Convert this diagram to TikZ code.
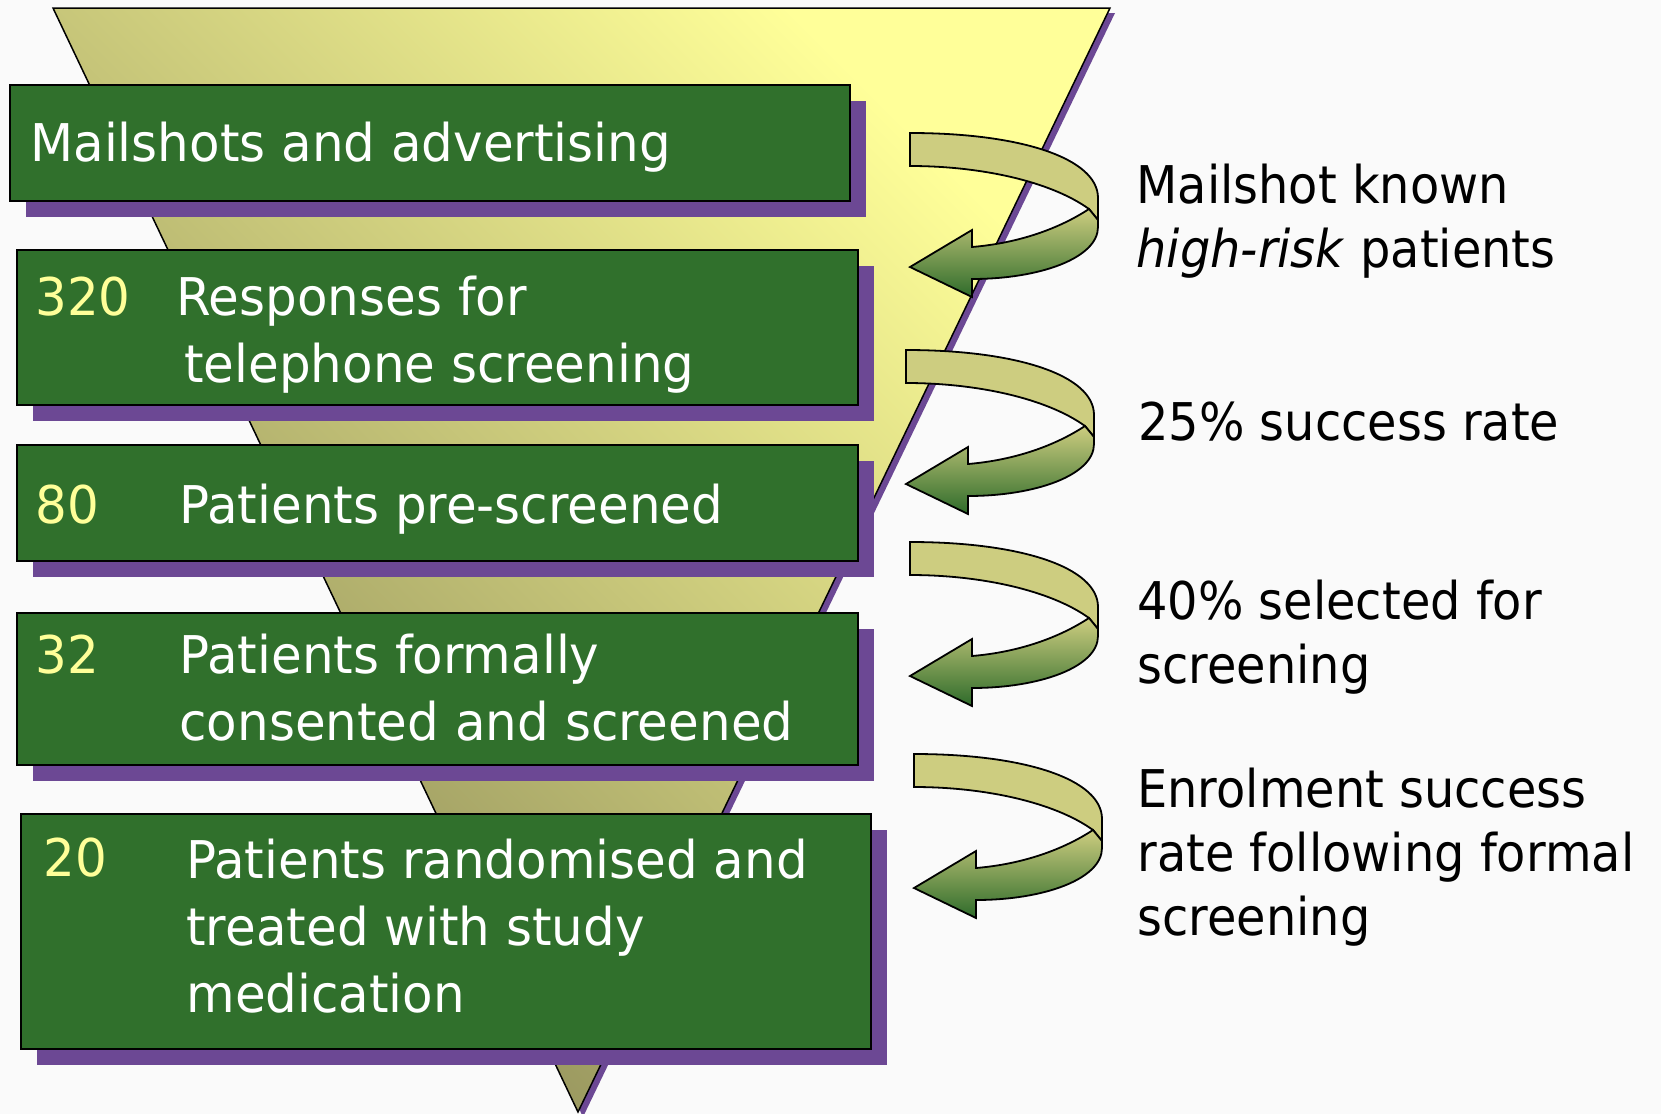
\documentclass[tikz,border=0pt]{standalone}
\usepackage{fontspec}
\setmainfont[FakeStretch=0.92]{DejaVu Sans}
\newfontfamily\boxfont[FakeStretch=0.96]{DejaVu Sans}
\usetikzlibrary{shadows}

\definecolor{paper}{RGB}{250,250,250}
\definecolor{boxgreen}{RGB}{48,112,44}
\definecolor{shadepurple}{RGB}{108,72,148}
\definecolor{numyellow}{RGB}{255,255,153}
\definecolor{funneldark}{RGB}{140,138,88}
\definecolor{funnellight}{RGB}{255,255,153}
\definecolor{bandolive}{RGB}{205,205,128}
\definecolor{bandgreen}{RGB}{46,107,42}

\tikzset{
  box/.style={draw=black, line width=1pt, fill=boxgreen, rectangle,
    drop shadow={shadow xshift=8pt, shadow yshift=-8pt, fill=shadepurple, opacity=1}},
  boxtext/.style={text=white, anchor=base west, align=left,
    font=\boxfont\fontsize{26pt}{33.5pt}\selectfont},
  num/.style={boxtext, text=numyellow},
  note/.style={text=black, anchor=base west, align=left,
    font=\fontsize{26pt}{32pt}\selectfont},
  band/.style={draw=black, line width=0.9pt, fill=bandolive},
  bandback/.style={draw=black, line width=0.9pt, top color=bandolive, bottom color=bandgreen},
  turn/.pic={
    \draw[band] (0,0) .. controls (110,0) and (188,25) .. (188,65) -- (188,87)
      -- (179,76) .. controls (140,48) and (70,33) .. (0,33) -- cycle;
    \draw[bandback] (179,76) -- (188,87) -- (188,94) .. controls (188,125) and (130,146) .. (62,146)
      -- (62,164) -- (0,134) -- (62,97) -- (62,114) .. controls (110,110) and (150,95) .. (179,76) -- cycle;
  }
}

\begin{document}
\begin{tikzpicture}[x=0.5pt, y=-0.5pt, every node/.style={inner sep=0pt}]

  \useasboundingbox (0,0) rectangle (1661,1114);
  \fill[paper] (0,0) rectangle (1661,1114);

  % funnel
  \fill[shadepurple, shift={(5,5)}] (53,8) -- (1110,8) -- (578,1112) -- cycle;
  \draw[line width=0.75pt, left color=funnellight, right color=funneldark, shading angle=-45]
    (53,8) -- (1110,8) -- (578,1112) -- cycle;

  % stages
  \node[box, minimum width=420pt, minimum height=58pt] (mail) at (430,143) {};
  \node[box, minimum width=420.5pt, minimum height=77.5pt] (resp) at (437.5,327.5) {};
  \node[box, minimum width=420.5pt, minimum height=58pt] (pre) at (437.5,503) {};
  \node[box, minimum width=420.5pt, minimum height=76pt] (cons) at (437.5,689) {};
  \node[box, minimum width=425pt, minimum height=117.5pt] (rand) at (446,931.5) {};

  % base of a multi-line node is its last line
  \node[boxtext] (mailtxt) at (30,161) {Mailshots and advertising};
  \node[num] (n320) at (35,315) {320};
  \node[boxtext] (resptxt) at (176,382) {Responses for\\\hspace{4pt}telephone screening};
  \node[num] (n80) at (35,523) {80};
  \node[boxtext] (pretxt) at (179,523) {Patients pre-screened};
  \node[num] (n32) at (35,673) {32};
  \node[boxtext] (constxt) at (179,740) {Patients formally\\consented and screened};
  \node[num] (n20) at (43,876) {20};
  \node[boxtext] (randtxt) at (186,1012) {Patients randomised and\\treated with study\\medication};

  % turns
  \pic (t1) at (910,133) {turn};
  \pic (t2) at (906,350) {turn};
  \pic (t3) at (910,542) {turn};
  \pic (t4) at (914,754) {turn};

  % rates
  \node[note] (known) at (1136,267) {Mailshot known\\\textit{high-risk} patients};
  \node[note] (rate25) at (1138,440) {25\% success rate};
  \node[note] (rate40) at (1137,683) {40\% selected for\\screening};
  \node[note] (enrol) at (1137,935) {Enrolment success\\rate following formal\\screening};

\end{tikzpicture}
\end{document}
